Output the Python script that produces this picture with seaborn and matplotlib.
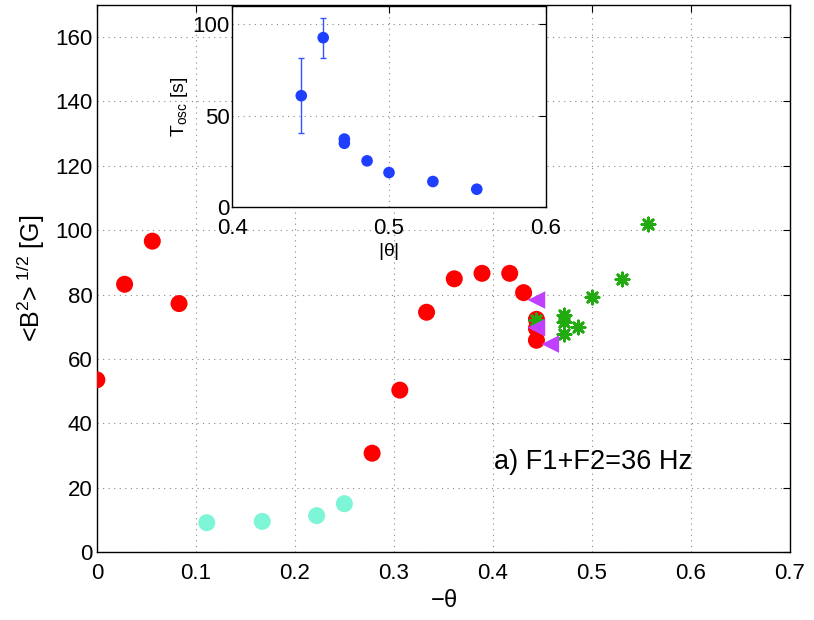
import numpy as np
import pandas as pd
import matplotlib
matplotlib.use("Agg")
import matplotlib.pyplot as plt
import seaborn as sns

# main panel data: -theta vs <B^2>^(1/2)
red_x = [0.0, 0.028, 0.056, 0.083, 0.278, 0.306, 0.333, 0.361, 0.389, 0.417, 0.431, 0.444, 0.444, 0.444]
red_y = [53.5, 83.2, 96.6, 77.2, 30.7, 50.3, 74.5, 84.9, 86.6, 86.6, 80.6, 72.3, 69.5, 65.8]
cyan_x = [0.111, 0.167, 0.222, 0.250]
cyan_y = [9.1, 9.5, 11.3, 15.0]
tri_x = [0.444, 0.444, 0.458]
tri_y = [78.3, 69.7, 64.6]
star_x = [0.444, 0.472, 0.472, 0.472, 0.486, 0.500, 0.530, 0.557]
star_y = [72.0, 73.8, 71.5, 67.7, 70.0, 79.1, 84.7, 101.8]

# inset data: |theta| vs T_osc
ins_x = [0.444, 0.458, 0.4715, 0.4715, 0.486, 0.500, 0.528, 0.556]
ins_y = [61.0, 92.7, 37.3, 35.0, 25.4, 19.0, 14.1, 9.9]
ins_err = [20.5, 11.0, 0.0, 0.0, 0.0, 0.0, 0.0, 0.0]

sns.set_style("white")
plt.rcParams['font.family'] = ['Liberation Sans', 'DejaVu Sans']
plt.rcParams['text.color'] = 'black'
plt.rcParams['axes.labelcolor'] = 'black'
plt.rcParams['mathtext.fontset'] = 'custom'
plt.rcParams['mathtext.rm'] = 'Liberation Sans'
plt.rcParams['mathtext.it'] = 'Liberation Sans'

fig = plt.figure(figsize=(8.14, 6.2), dpi=100)
ax = fig.add_axes([0.119, 0.1097, 0.8514, 0.8823])


def style_axes(a, size):
    for s in a.spines.values():
        s.set_visible(True)
        s.set_color('black')
        s.set_linewidth(1.0)
    a.tick_params(direction='in', top=True, right=True, length=5,
                  labelsize=size, colors='black')
    a.grid(True, linestyle=(0, (1, 4)), color='#888888', linewidth=0.8)
    a.set_axisbelow(True)


sns.scatterplot(x=red_x, y=red_y, ax=ax, color='#ff0000', s=150,
                edgecolor='none', zorder=3)
sns.scatterplot(x=cyan_x, y=cyan_y, ax=ax, color='#7ff5d8', s=150,
                edgecolor='none', zorder=3)
sns.scatterplot(x=star_x, y=star_y, ax=ax, color='#22aa11', s=90,
                marker=(8, 2, 0), linewidth=2.0, zorder=4)
sns.scatterplot(x=tri_x, y=tri_y, ax=ax, color='#bf40ff', s=160,
                marker='<', edgecolor='none', zorder=5)

ax.set_xlim(0, 0.7)
ax.set_ylim(0, 170)
ax.set_xticks(np.arange(0, 0.71, 0.1))
ax.set_xticklabels(['0', '0.1', '0.2', '0.3', '0.4', '0.5', '0.6', '0.7'])
ax.set_yticks(np.arange(0, 161, 20))
style_axes(ax, 16)
ax.tick_params(axis='x', pad=8)
ax.tick_params(axis='y', pad=3)
ax.set_xlabel(r'$-\theta$', fontsize=17, labelpad=4)
ax.set_ylabel('<B$^2$>$^{\\ 1/2}$ [G]', fontsize=18, labelpad=6)
ax.text(0.401, 28, 'a) F1+F2=36 Hz', fontsize=19.5, va='center', ha='left')

# inset
ins = fig.add_axes([0.2854, 0.6656, 0.385, 0.3247])
ins.set_facecolor('white')
ins.errorbar(ins_x, ins_y, yerr=ins_err, fmt='none', ecolor='#3355ff',
             elinewidth=1.0, capsize=2, zorder=2)
sns.scatterplot(x=ins_x, y=ins_y, ax=ins, color='#1f3fff', s=70,
                edgecolor='none', zorder=3)
ins.set_xlim(0.4, 0.6)
ins.set_ylim(0, 110)
ins.set_xticks([0.4, 0.5, 0.6])
ins.set_xticklabels(['0.4', '0.5', '0.6'])
ins.set_yticks([0, 50, 100])
style_axes(ins, 16)
ins.tick_params(axis='x', pad=8)
ins.tick_params(axis='y', pad=2)
ins.set_xlabel(r'|$\theta$|', fontsize=14, labelpad=1)
ins.set_ylabel('T$_{\\rm osc}$ [s]', fontsize=14, labelpad=2)

fig.savefig('out.png', dpi=100)
